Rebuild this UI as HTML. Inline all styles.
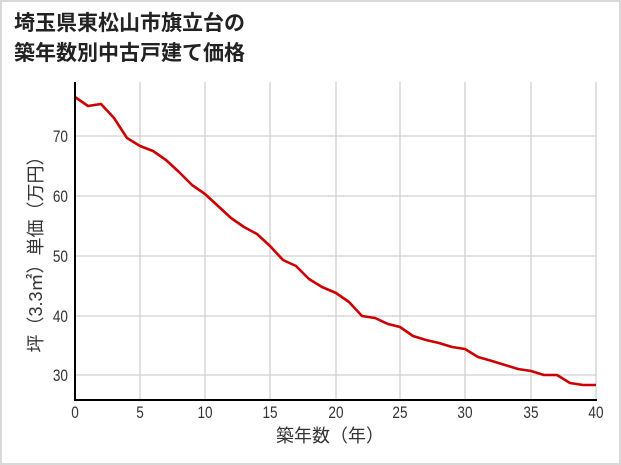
<!DOCTYPE html>
<html><head><meta charset="utf-8"><style>
html,body{margin:0;padding:0;background:#fff}
svg{display:block;font-family:"Liberation Sans","Noto Sans CJK JP",sans-serif}
</style></head><body>
<svg width="621" height="465" viewBox="0 0 621 465" xmlns="http://www.w3.org/2000/svg">
<rect x="1" y="1" width="619" height="463" fill="#fff" stroke="#d9d9d9" stroke-width="2"/>
<text x="14" y="30" font-size="21" font-weight="bold" fill="#222">埼玉県東松山市旗立台の</text>
<text x="14" y="60" font-size="21" font-weight="bold" fill="#222">築年数別中古戸建て価格</text>
<g stroke="#d0d0d0" stroke-width="1.3">
<line x1="140" y1="82" x2="140" y2="400"/><line x1="205" y1="82" x2="205" y2="400"/><line x1="270" y1="82" x2="270" y2="400"/><line x1="336" y1="82" x2="336" y2="400"/><line x1="400" y1="82" x2="400" y2="400"/><line x1="465" y1="82" x2="465" y2="400"/><line x1="531" y1="82" x2="531" y2="400"/><line x1="596" y1="82" x2="596" y2="400"/>
<line x1="75" y1="136" x2="596" y2="136"/><line x1="75" y1="196" x2="596" y2="196"/><line x1="75" y1="256" x2="596" y2="256"/><line x1="75" y1="316" x2="596" y2="316"/><line x1="75" y1="375" x2="596" y2="375"/>
</g>
<polyline fill="none" stroke="#cc0000" stroke-width="2.6" stroke-linejoin="round" points="75,97 88,106 101,104 114,118 127,138 140,146 153,151 166,160 179,172 192,185 205,194 218,206 231,218 244,227 257,234 270,246 283,260 296,266 309,279 322,287 336,293 349,302 362,316 375,318 388,324 400,327 413,336 426,340 439,343 452,347 465,349 478,357 492,361 505,365 518,369 531,371 544,375 557,375 570,383 583,385 596,385"/>
<line x1="75" y1="82" x2="75" y2="401" stroke="#000" stroke-width="2"/>
<line x1="74" y1="400" x2="597" y2="400" stroke="#000" stroke-width="2"/>
<g font-size="17" fill="#333" text-anchor="middle" transform="scale(0.8,1)">
<text x="93.75" y="418">0</text><text x="175" y="418">5</text><text x="256.25" y="418">10</text><text x="337.5" y="418">15</text><text x="420" y="418">20</text><text x="500" y="418">25</text><text x="581.25" y="418">30</text><text x="663.75" y="418">35</text><text x="745" y="418">40</text>
</g>
<g font-size="17" fill="#333" text-anchor="end" transform="scale(0.8,1)">
<text x="85" y="142">70</text><text x="85" y="202">60</text><text x="85" y="262">50</text><text x="85" y="322">40</text><text x="85" y="381">30</text>
</g>
<text x="330" y="442" font-size="18" fill="#333" text-anchor="middle">築年数（年）</text>
<text transform="translate(42,250) rotate(-90)" font-size="18" fill="#333" text-anchor="middle">坪（3.3㎡）単価（万円）</text>
</svg>
</body></html>
